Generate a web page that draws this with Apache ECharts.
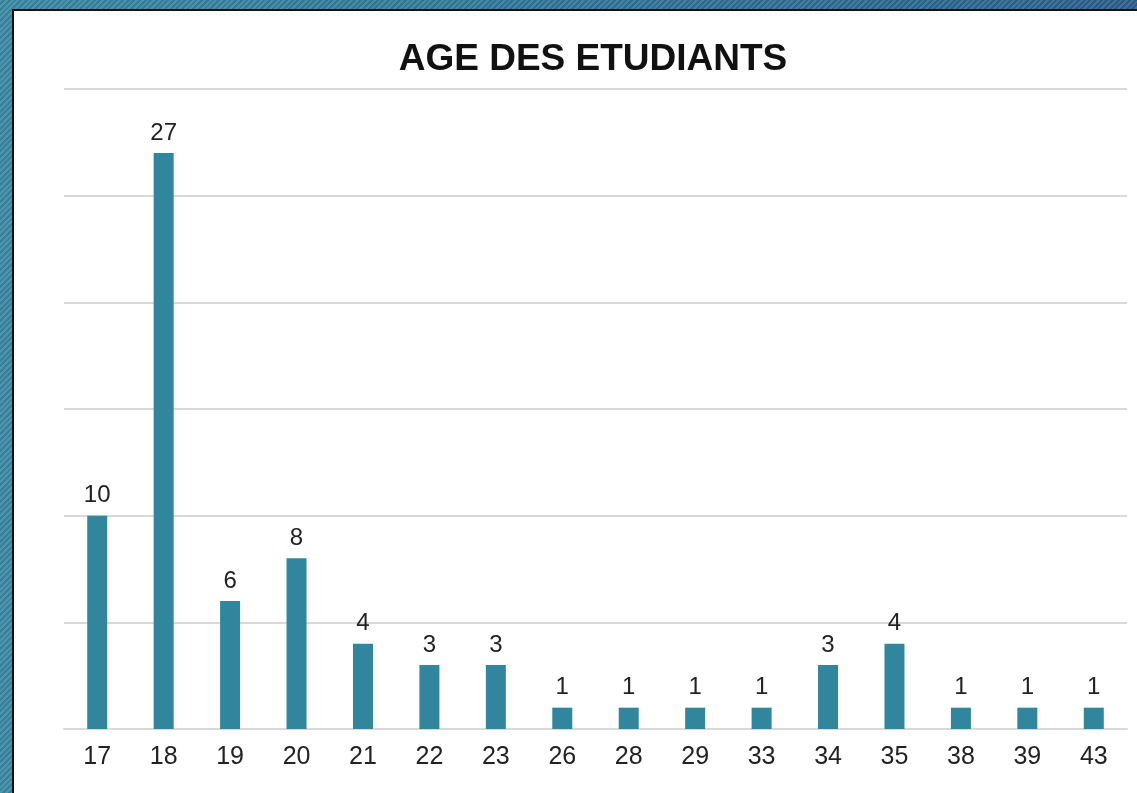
<!DOCTYPE html>
<html>
<head>
<meta charset="utf-8">
<script src="https://cdn.jsdelivr.net/npm/echarts@6/dist/echarts.min.js"></script>
<style>
  html, body {
    margin: 0;
    padding: 0;
    width: 1137px;
    height: 793px;
    overflow: hidden;
  }
  body {
    background:
      repeating-linear-gradient(135deg, rgba(255,255,255,0.10) 0 2px, rgba(0,0,0,0.06) 2px 4px),
      linear-gradient(90deg, #3a88a2 0%, #327a9c 40%, #2c5f8c 100%);
  }
  #age-chart {
    position: absolute;
    left: 12px;
    top: 9px;
    width: 1125px;
    height: 784px;
    background: #fff;
    border-left: 2px solid #111;
    border-top: 2px solid #111;
    box-sizing: border-box;
  }
</style>
</head>
<body>
<div id="age-chart"></div>
<script>
// 年龄类别
const ages = ['17', '18', '19', '20', '21', '22', '23', '26', '28', '29', '33', '34', '35', '38', '39', '43']
// 学生人数
const counts = [10, 27, 6, 8, 4, 3, 3, 1, 1, 1, 1, 3, 4, 1, 1, 1]

const myChart = echarts.init(document.getElementById('age-chart'))

const option = {
  animation: false,
  title: {
    text: 'AGE DES ETUDIANTS',
    left: 574,
    textAlign: 'center',
    top: 25,
    textStyle: {
      color: '#111',
      fontSize: 37,
      fontWeight: 'bold',
      fontFamily: '"Liberation Sans", Arial, sans-serif'
    }
  },
  grid: {
    left: 50,
    right: 10,
    top: 78,
    bottom: 64
  },
  xAxis: {
    type: 'category',
    data: ages,
    axisLine: {
      lineStyle: { color: '#d9d9d9', width: 2 }
    },
    axisTick: { show: false },
    axisLabel: {
      color: '#222',
      fontSize: 25,
      margin: 16,
      fontFamily: '"Liberation Sans", Arial, sans-serif'
    }
  },
  yAxis: {
    type: 'value',
    min: 0,
    max: 30,
    interval: 5,
    axisLabel: { show: false },
    axisLine: { show: false },
    axisTick: { show: false },
    splitLine: {
      lineStyle: { color: '#d9d9d9', width: 2 }
    }
  },
  series: [
    {
      type: 'bar',
      data: counts,
      barWidth: 20,
      itemStyle: { color: '#31869e' },
      label: {
        show: true,
        position: 'top',
        distance: 8,
        color: '#222',
        fontSize: 24,
        fontFamily: '"Liberation Sans", Arial, sans-serif'
      }
    }
  ]
}

myChart.setOption(option)
</script>
</body>
</html>
